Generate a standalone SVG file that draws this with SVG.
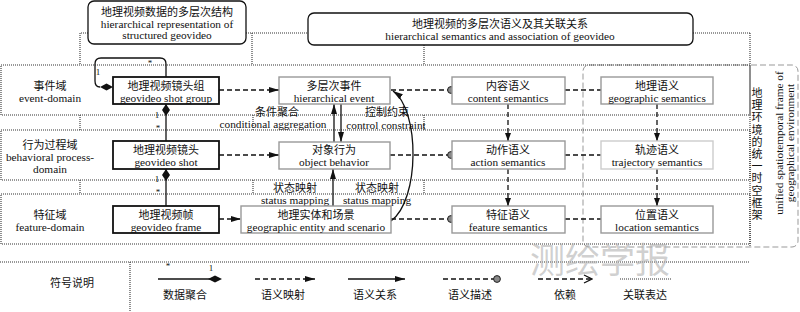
<svg xmlns="http://www.w3.org/2000/svg" width="800" height="312" viewBox="0 0 800 312">
<defs>
<style>
text{font-family:"Liberation Serif","Noto Sans CJK SC",serif;fill:#111;}
.zh{font-size:11px;text-anchor:middle;}
.en{font-size:11.3px;text-anchor:middle;}
.sm{font-size:9px;text-anchor:middle;}
.dot{fill:none;stroke:#333;stroke-width:1.1;stroke-dasharray:1,1;}
.gdash{fill:none;stroke:#999;stroke-width:1;stroke-dasharray:6,3;}
.top{fill:#fff;stroke:#111;stroke-width:1.3;}
.nb{fill:#fff;stroke:#111;stroke-width:1.8;}
.ng{fill:#fff;stroke:#999;stroke-width:1.4;}
.map{fill:none;stroke:#111;stroke-width:1.3;stroke-dasharray:5,3;}
.rel{fill:none;stroke:#111;stroke-width:1.3;}
.agg{fill:none;stroke:#111;stroke-width:1.3;}
.dia{fill:#111;}
</style>
<marker id="ah" markerWidth="10" markerHeight="8" refX="10" refY="4" orient="auto" markerUnits="userSpaceOnUse"><path d="M0,1 L10,4 L0,7 z" fill="#111"/></marker>
<marker id="ahs" markerWidth="8" markerHeight="7" refX="8" refY="3.5" orient="auto" markerUnits="userSpaceOnUse"><path d="M0,0.5 L8,3.5 L0,6.5 z" fill="#111"/></marker>
<marker id="circ" markerWidth="9" markerHeight="9" refX="4.5" refY="4.5" orient="auto" markerUnits="userSpaceOnUse"><circle cx="4.5" cy="4.5" r="3.4" fill="#888" stroke="#222" stroke-width="1"/></marker>
<marker id="chev" markerWidth="10" markerHeight="10" refX="9" refY="5" orient="auto" markerUnits="userSpaceOnUse"><path d="M1,1 L9,5 L1,9" fill="none" stroke="#111" stroke-width="1.3"/></marker>
</defs>
<rect width="800" height="312" fill="#fff"/>

<!-- frame / domains -->
<g id="frame">
<rect class="gdash" x="583" y="65" width="215" height="182" rx="6"/>
<rect id="band-event" class="dot" x="1" y="65" width="749" height="50"/>
<rect id="band-behavior" class="dot" x="1" y="130" width="749" height="50"/>
<rect id="band-feature" class="dot" x="1" y="194" width="749" height="50"/>
<line class="dot" x1="750" y1="33" x2="750" y2="247"/>
<line class="dot" x1="0" y1="262" x2="750" y2="262"/>
<line class="dot" x1="130" y1="262" x2="130" y2="312"/>
</g>

<g id="connectors">
<polyline class="dot" points="88,33 80,33 80,65"/>
<polyline class="dot" points="246,33 308,33"/>
<line class="dot" x1="252" y1="33" x2="252" y2="65"/>
<line class="dot" x1="424" y1="45" x2="424" y2="65"/>
<polyline class="dot" points="693,33 750,33"/>
<line class="dot" x1="80" y1="115" x2="80" y2="130"/>
<line class="dot" x1="253" y1="115" x2="253" y2="130"/>
<line class="dot" x1="424" y1="115" x2="424" y2="130"/>
<line class="dot" x1="80" y1="180" x2="80" y2="194"/>
<line class="dot" x1="253" y1="180" x2="253" y2="194"/>
<line class="dot" x1="424" y1="180" x2="424" y2="194"/>

<path class="agg" d="M166,77 L166,64 Q166,58 160,58 L101,58 Q95,58 95,64 L95,81 Q95,87 100,87"/>
<polygon class="dia" points="100,87 106.5,83.5 113,87 106.5,90.5"/>
<text class="sm" x="150" y="66">*</text>
<text class="sm" x="98" y="75">1</text>
<line class="agg" x1="166" y1="104" x2="166" y2="141"/>
<polygon class="dia" points="166,104 170,110 166,116 162,110"/>
<text class="sm" x="157" y="118">1</text>
<text class="sm" x="158" y="131">*</text>
<line class="agg" x1="166" y1="169" x2="166" y2="206"/>
<polygon class="dia" points="166,169 170,175 166,181 162,175"/>
<text class="sm" x="157" y="182">1</text>
<text class="sm" x="158" y="195">*</text>

<line class="map" x1="219" y1="90" x2="279" y2="90" marker-end="url(#ah)"/>
<line class="map" x1="219" y1="155" x2="279" y2="155" marker-end="url(#ah)"/>
<line class="map" x1="219" y1="219" x2="241" y2="219" marker-end="url(#ah)"/>

<line class="map" x1="391" y1="90" x2="451" y2="90" marker-end="url(#circ)"/>
<line class="map" x1="390" y1="155" x2="451" y2="155" marker-end="url(#circ)"/>
<line class="map" x1="391" y1="219" x2="451" y2="219" marker-end="url(#circ)"/>

<line class="map" x1="565" y1="90" x2="601" y2="90"/>
<line class="map" x1="565" y1="155" x2="601" y2="155"/>
<line class="map" x1="565" y1="219" x2="601" y2="219"/>

<line class="map" x1="508" y1="104" x2="508" y2="141" marker-end="url(#ahs)"/>
<line class="map" x1="508" y1="169" x2="508" y2="206" marker-end="url(#ahs)"/>
<line class="map" x1="657" y1="104" x2="657" y2="141" marker-end="url(#ahs)"/>
<line class="map" x1="657" y1="169" x2="657" y2="206" marker-end="url(#ahs)"/>

<line class="rel" x1="334" y1="142" x2="334" y2="104" marker-end="url(#ah)"/>
<line class="rel" x1="341" y1="104" x2="341" y2="142" marker-end="url(#ah)"/>
<line class="rel" x1="333" y1="206" x2="333" y2="169" marker-end="url(#ah)"/>
<path class="rel" d="M391,221 C420,200 420,110 393,91" marker-end="url(#ah)"/>

<text class="zh" x="277" y="116">条件聚合</text>
<text class="en" x="273" y="128">conditional aggregation</text>
<text class="zh" x="387" y="116">控制约束</text>
<text class="en" x="386" y="129">control constraint</text>
<text class="zh" x="295" y="192">状态映射</text>
<text class="en" x="295" y="204">status mapping</text>
<text class="zh" x="377" y="192">状态映射</text>
<text class="en" x="377" y="204">status mapping</text>
</g>

<g id="hdr-structure">
<rect class="top" x="88" y="1" width="158" height="43" rx="6"/>
<text class="zh" x="167" y="16">地理视频数据的多层次结构</text>
<text class="en" x="167" y="28">hierarchical representation of</text>
<text class="en" x="167" y="39">structured geovideo</text>
</g>
<g id="hdr-semantics">
<rect class="top" x="308" y="13" width="385" height="32" rx="6"/>
<text class="zh" x="500" y="28">地理视频的多层次语义及其关联关系</text>
<text class="en" x="500" y="40">hierarchical semantics and association of geovideo</text>
</g>

<g id="lbl-event">
<text class="zh" x="50" y="90">事件域</text>
<text class="en" x="50" y="102">event-domain</text>
</g>
<g id="lbl-behavior">
<text class="zh" x="50" y="149">行为过程域</text>
<text class="en" x="50" y="161">behavioral process-</text>
<text class="en" x="50" y="173">domain</text>
</g>
<g id="lbl-feature">
<text class="zh" x="50" y="219">特征域</text>
<text class="en" x="50" y="231">feature-domain</text>
</g>

<g id="n-shotgroup"><rect class="nb" x="113" y="77" width="106" height="27"/>
<text class="zh" x="166" y="90">地理视频镜头组</text><text class="en" x="166" y="102">geovideo shot group</text></g>
<g id="n-shot"><rect class="nb" x="113" y="141" width="106" height="28"/>
<text class="zh" x="166" y="154">地理视频镜头</text><text class="en" x="166" y="166">geovideo shot</text></g>
<g id="n-frame"><rect class="nb" x="113" y="206" width="106" height="27"/>
<text class="zh" x="166" y="219">地理视频帧</text><text class="en" x="166" y="231">geovideo frame</text></g>

<g id="n-event"><rect class="ng" x="279" y="77" width="111" height="27"/>
<text class="zh" x="334" y="90">多层次事件</text><text class="en" x="334" y="102">hierarchical event</text></g>
<g id="n-behavior"><rect class="ng" x="279" y="142" width="111" height="27"/>
<text class="zh" x="334" y="154">对象行为</text><text class="en" x="334" y="166">object behavior</text></g>
<g id="n-entity"><rect class="ng" x="241" y="206" width="150" height="27"/>
<text class="zh" x="316" y="219">地理实体和场景</text><text class="en" x="316" y="231">geographic entity and scenario</text></g>

<g id="n-content"><rect class="ng" x="452" y="77" width="113" height="27"/>
<text class="zh" x="508" y="90">内容语义</text><text class="en" x="508" y="102">content semantics</text></g>
<g id="n-action"><rect class="ng" x="452" y="141" width="113" height="28"/>
<text class="zh" x="508" y="154">动作语义</text><text class="en" x="508" y="166">action semantics</text></g>
<g id="n-featsem"><rect class="ng" x="452" y="206" width="113" height="27"/>
<text class="zh" x="508" y="219">特征语义</text><text class="en" x="508" y="231">feature semantics</text></g>

<g id="n-geosem"><rect class="ng" x="601" y="77" width="112" height="27"/>
<text class="zh" x="657" y="90">地理语义</text><text class="en" x="657" y="102">geographic semantics</text></g>
<g id="n-traj"><rect class="ng" x="601" y="141" width="112" height="28" style="stroke:#ccc"/>
<text class="zh" x="657" y="154">轨迹语义</text><text class="en" x="657" y="166">trajectory semantics</text></g>
<g id="n-loc"><rect class="ng" x="601" y="206" width="112" height="27"/>
<text class="zh" x="657" y="219">位置语义</text><text class="en" x="657" y="231">location semantics</text></g>

<g id="n-frame-env">
<text class="zh" x="757" y="97"><tspan x="757">地</tspan><tspan x="757" dy="12.2">理</tspan><tspan x="757" dy="12.2">环</tspan><tspan x="757" dy="12.2">境</tspan><tspan x="757" dy="12.2">的</tspan><tspan x="757" dy="12.2">统</tspan><tspan x="757" dy="12.2">一</tspan><tspan x="757" dy="12.2">时</tspan><tspan x="757" dy="12.2">空</tspan><tspan x="757" dy="12.2">框</tspan><tspan x="757" dy="12.2">架</tspan></text>
<text class="en" transform="translate(782.5,143) rotate(-90)">unified spatiotemporal frame of</text>
<text class="en" transform="translate(793.5,143) rotate(-90)">geographical environment</text>
</g>

<g id="legend">
<text class="zh" x="72" y="287">符号说明</text>
<line class="agg" x1="158" y1="279" x2="212" y2="279"/>
<polygon class="dia" points="208,279 215,275.5 222,279 215,282.5"/>
<text class="sm" x="168" y="269">*</text>
<text class="sm" x="211" y="271">1</text>
<text class="zh" x="185" y="299">数据聚合</text>
<line class="map" x1="255" y1="279" x2="315" y2="279" marker-end="url(#ah)"/>
<text class="zh" x="283" y="299">语义映射</text>
<line class="rel" x1="348" y1="279" x2="405" y2="279" marker-end="url(#ah)"/>
<text class="zh" x="375" y="299">语义关系</text>
<line class="map" x1="443" y1="279" x2="497" y2="279" marker-end="url(#circ)"/>
<text class="zh" x="470" y="299">语义描述</text>
<line class="map" x1="538" y1="279" x2="592" y2="279" marker-end="url(#chev)"/>
<text class="zh" x="565" y="299">依赖</text>
<line class="dot" x1="620" y1="279" x2="672" y2="279"/>
<text class="zh" x="645" y="299">关联表达</text>
</g>

<text x="600" y="273" style="font-family:'Noto Sans CJK SC',sans-serif;font-size:35px;text-anchor:middle;fill:#b0b0b0;fill-opacity:0.6">测绘学报</text>
</svg>
